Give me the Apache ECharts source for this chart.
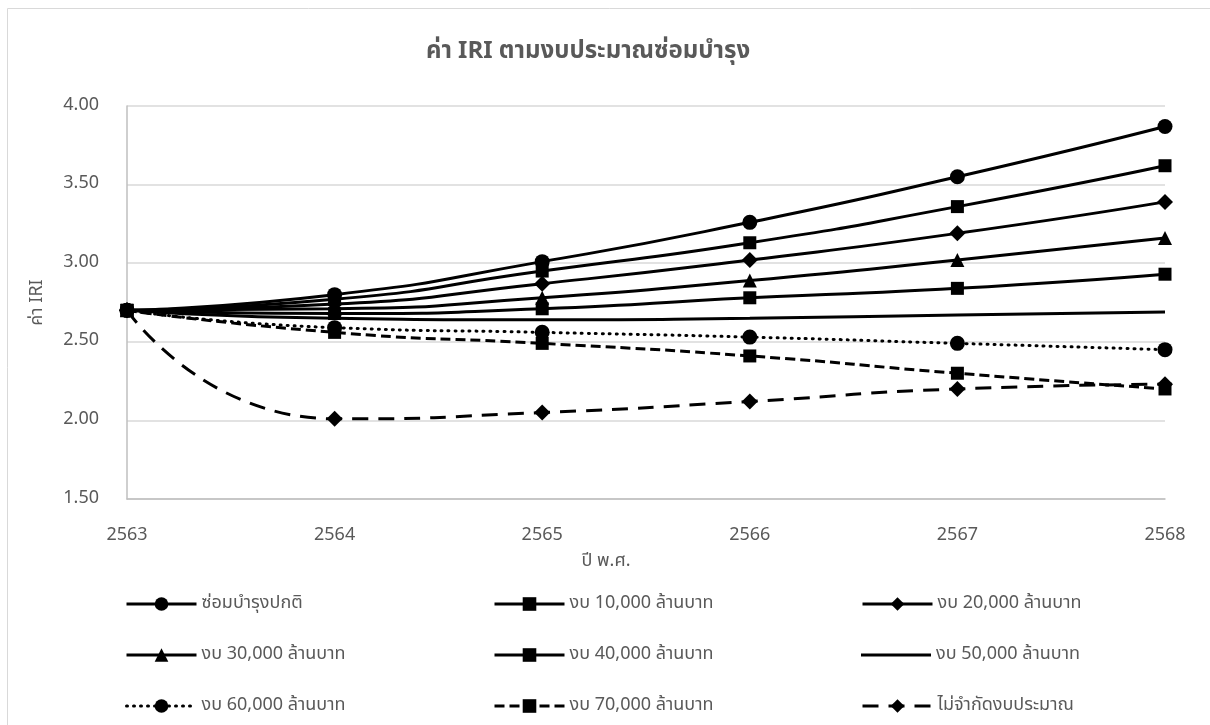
<!DOCTYPE html>
<html>
<head>
<meta charset="utf-8">
<script src="https://cdn.jsdelivr.net/npm/echarts@6/dist/echarts.min.js"></script>
<style>
  html, body { margin: 0; padding: 0; background: #fff; }
  #main { width: 1210px; height: 725px; }
</style>
</head>
<body>
<div id="main"></div>
<script>
// ปี พ.ศ.
const years = ['2563', '2564', '2565', '2566', '2567', '2568'];
const yTicks = [1.5, 2.0, 2.5, 3.0, 3.5, 4.0];

// ค่า IRI แต่ละกรณี
const normal = [2.70, 2.80, 3.01, 3.26, 3.55, 3.87];
const budget10k = [2.70, 2.77, 2.95, 3.13, 3.36, 3.62];
const budget20k = [2.70, 2.74, 2.87, 3.02, 3.19, 3.39];
const budget30k = [2.70, 2.71, 2.78, 2.89, 3.02, 3.16];
const budget40k = [2.70, 2.68, 2.71, 2.78, 2.84, 2.93];
const budget50k = [2.70, 2.65, 2.64, 2.65, 2.67, 2.69];
const budget60k = [2.70, 2.59, 2.56, 2.53, 2.49, 2.45];
const budget70k = [2.70, 2.56, 2.49, 2.41, 2.30, 2.20];
const unlimited = [2.70, 2.01, 2.05, 2.12, 2.20, 2.23];

const names = [
    'ซ่อมบำรุงปกติ', 'งบ 10,000 ล้านบาท', 'งบ 20,000 ล้านบาท',
    'งบ 30,000 ล้านบาท', 'งบ 40,000 ล้านบาท', 'งบ 50,000 ล้านบาท',
    'งบ 60,000 ล้านบาท', 'งบ 70,000 ล้านบาท', 'ไม่จำกัดงบประมาณ'
];

const font = '"Noto Sans Thai", "Leelawadee UI", Tahoma, "Noto Sans", sans-serif';
const grey = '#595959';

function makeLine(name, data, symbol, size, dash) {
    return {
        name: name,
        type: 'line',
        data: data,
        smooth: 0.6,
        symbol: symbol,
        symbolSize: size,
        color: '#000',
        lineStyle: { color: '#000', width: 3, type: dash || 'solid' },
        itemStyle: { color: '#000' }
    };
}

const series = [
    makeLine(names[0], normal, 'circle', 15),
    makeLine(names[1], budget10k, 'rect', 13),
    makeLine(names[2], budget20k, 'diamond', 16),
    makeLine(names[3], budget30k, 'triangle', 14),
    makeLine(names[4], budget40k, 'rect', 13),
    makeLine(names[5], budget50k, 'none', 0),
    makeLine(names[6], budget60k, 'circle', 15, [1, 6]),
    makeLine(names[7], budget70k, 'rect', 13, [10, 5]),
    makeLine(names[8], unlimited, 'diamond', 16, [16, 10])
];
series[6].lineStyle.cap = 'round';

// legend icon for the plain line (no marker)
const plainLine = 'path://M0,6.5 L70,6.5 L70,9.5 L0,9.5 Z M0,0 L0.01,0 L0,0.01 Z M0,16 L0.01,16 L0,15.99 Z';

// 3 คอลัมน์ x 3 แถว
const legendLeft = [125, 493, 861];
const legendTop = [595, 646, 697];

const legends = names.map((n, i) => ({
    left: legendLeft[i % 3],
    top: legendTop[Math.floor(i / 3)],
    itemWidth: 70,
    itemHeight: 17,
    padding: 0,
    data: [i === 5 ? { name: n, icon: plainLine } : n],
    lineStyle: { width: 3 },
    textStyle: { color: grey, fontSize: 18, lineHeight: 17, fontFamily: font },
    selectedMode: false
}));

const chart = echarts.init(document.getElementById('main'));
chart.setOption({
    animation: false,
    textStyle: { fontFamily: font },
    title: [
        {
            text: 'ค่า IRI ตามงบประมาณซ่อมบำรุง',
            left: 583,
            top: 36,
            textAlign: 'center',
            textStyle: { color: grey, fontSize: 24, fontWeight: 'bold', fontFamily: font }
        },
        {
            text: 'ปี พ.ศ.',
            left: 601,
            top: 548,
            textAlign: 'center',
            textStyle: { color: grey, fontSize: 18, fontWeight: 'normal', fontFamily: font }
        }
    ],
    graphic: [{
        type: 'rect',
        shape: { x: 7.5, y: 8.5, width: 1400, height: 900 },
        style: { fill: 'none', stroke: '#d9d9d9', lineWidth: 1 },
        silent: true
    }],
    legend: legends,
    grid: { left: 127, right: 45, top: 106, bottom: 226 },
    xAxis: {
        type: 'category',
        data: years,
        boundaryGap: false,
        axisLine: { lineStyle: { color: '#bfbfbf', width: 1.5 } },
        axisTick: { show: false },
        axisLabel: { color: grey, fontSize: 18, margin: 28, fontFamily: font }
    },
    yAxis: {
        type: 'value',
        min: yTicks[0],
        max: yTicks[yTicks.length - 1],
        interval: 0.5,
        name: 'ค่า IRI',
        nameLocation: 'middle',
        nameGap: 80,
        nameTextStyle: { color: grey, fontSize: 18, fontFamily: font },
        axisLine: { show: true, lineStyle: { color: '#bfbfbf', width: 1.5 } },
        axisTick: { show: false },
        splitLine: { lineStyle: { color: '#d9d9d9', width: 1.5 } },
        axisLabel: {
            color: grey,
            fontSize: 18,
            margin: 28,
            fontFamily: font,
            formatter: v => v.toFixed(2)
        }
    },
    series: series
});
</script>
</body>
</html>
